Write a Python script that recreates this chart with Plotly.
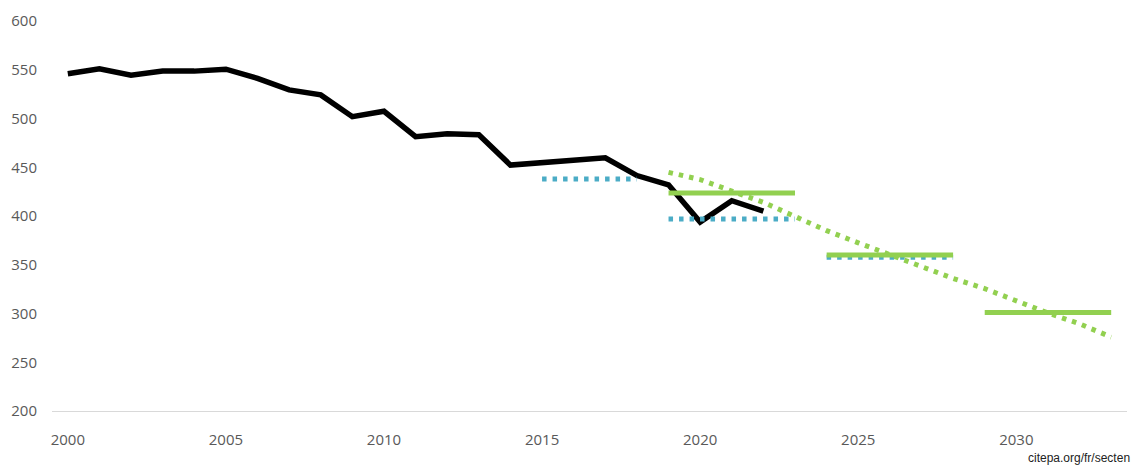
import plotly.graph_objects as go

years_hist = list(range(2000, 2023))
emissions = [545.9, 551.0, 544.5, 548.6, 548.6, 550.6, 541.2, 529.3, 524.2, 501.9,
             507.4, 481.3, 484.4, 483.4, 452.2, 455.0, 457.0, 459.7, 441.5, 432.0,
             393.8, 415.7, 405.0]

# Carbon budgets (blue dotted)
blue_x = [2015, 2018, None, 2019, 2023, None, 2024, 2028]
blue_y = [438, 438, None, 397, 397, None, 357.6, 357.6]

# New budgets (green solid)
green_x = [2019, 2023, None, 2024, 2028, None, 2029, 2033]
green_y = [423.5, 423.5, None, 360, 360, None, 301, 301]

# Trajectory (green dotted)
traj_years = list(range(2019, 2034))
traj_vals = [444.8, 437.4, 425.6, 414.0, 399.5, 385.0, 372.5, 360.6, 348.5, 336.0,
             325.5, 313.0, 300.5, 289.4, 275.8]

y_ticks = [200, 250, 300, 350, 400, 450, 500, 550, 600]
x_ticks = [2000, 2005, 2010, 2015, 2020, 2025, 2030]

BLACK = "#000000"
BLUE = "#4bacc6"
GREEN = "#92d050"

fig = go.Figure()
fig.add_trace(go.Scatter(x=years_hist, y=emissions, mode="lines",
                         line=dict(color=BLACK, width=5.5), hoverinfo="skip"))
fig.add_trace(go.Scatter(x=blue_x, y=blue_y, mode="lines",
                         line=dict(color=BLUE, width=5, dash="4.5px,6px"),
                         connectgaps=False, hoverinfo="skip"))
fig.add_trace(go.Scatter(x=green_x, y=green_y, mode="lines",
                         line=dict(color=GREEN, width=5),
                         connectgaps=False, hoverinfo="skip"))
fig.add_trace(go.Scatter(x=traj_years, y=traj_vals, mode="lines",
                         line=dict(color=GREEN, width=5, dash="4.5px,6px"),
                         hoverinfo="skip"))

tick_font = dict(family="Open Sans, Noto Sans, sans-serif", size=15, color="#595959")

fig.update_layout(
    width=1137, height=466,
    margin=dict(l=52, r=10, t=14, b=55),
    paper_bgcolor="white", plot_bgcolor="white",
    showlegend=False,
    xaxis=dict(range=[1999.5, 2033.5], tickvals=x_ticks, ticktext=[str(v) for v in x_ticks],
               showgrid=False, zeroline=False, showline=True, linecolor="#d9d9d9",
               linewidth=1, ticks="", tickfont=tick_font, ticklabelstandoff=15),
    yaxis=dict(range=[200, 600], tickvals=y_ticks, ticktext=[str(v) for v in y_ticks],
               showgrid=False, zeroline=False, showline=False, ticks="",
               tickfont=tick_font, ticklabelstandoff=14),
    annotations=[dict(text="citepa.org/fr/secten", xref="paper", yref="paper",
                      x=1.005, y=-0.12, xanchor="right", yanchor="middle", showarrow=False,
                      font=dict(family="Liberation Sans, Arial, sans-serif", size=12, color="#222222"))],
)

fig.write_html("out.html", config={"displayModeBar": False},
               post_script="document.body.style.margin='0';")
